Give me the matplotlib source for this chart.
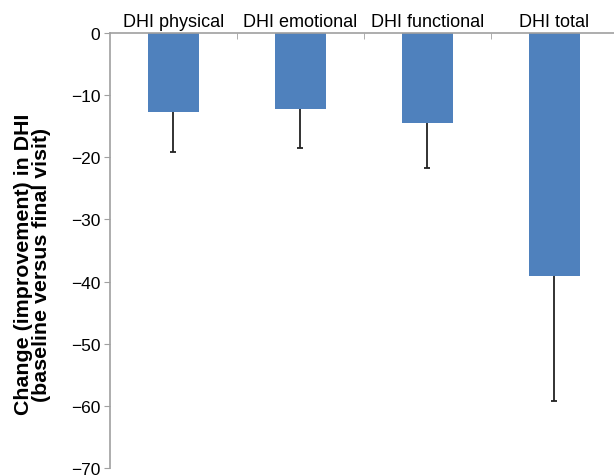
import numpy as np
import matplotlib
matplotlib.use("Agg")
import matplotlib.pyplot as plt

categories = ["DHI physical", "DHI emotional", "DHI functional", "DHI total"]
changes = [-12.7, -12.3, -14.5, -39.1]
errors = [6.4, 6.2, 7.2, 20.1]
yticks = [0, -10, -20, -30, -40, -50, -60, -70]

plt.rcParams['font.family'] = ['Liberation Sans', 'DejaVu Sans']

fig = plt.figure(figsize=(6.14, 4.77), dpi=100)
ax = fig.add_axes([0.179, 0.0168, 0.821, 0.9119])

x = np.arange(len(categories))
ax.bar(x, changes, width=0.4, color="#4F81BD", zorder=2)
# error bars only on the lower side, no cap at the bar end
eb = ax.errorbar(x, changes, yerr=[errors, np.zeros(len(errors))], fmt="none",
                 ecolor="#222222", elinewidth=1.3, capsize=2.5, capthick=1.3, zorder=3)
eb[1][1].set_visible(False)

ax.set_xlim(-0.5, 3.47)
ax.set_ylim(-70, 0)
ax.set_yticks(yticks)
ax.set_yticklabels(["0" if v == 0 else "\u2212%d" % abs(v) for v in yticks], fontsize=12.5)

ax.xaxis.tick_top()
ax.set_xticks(x)
ax.set_xticklabels(categories, fontsize=13)
ax.tick_params(axis="x", length=0, pad=2)
ax.set_xticks(np.arange(0.5, 3.5, 1), minor=True)
ax.tick_params(axis="x", which="minor", direction="in", length=4, color="#A0A0A0", top=True)
ax.tick_params(axis="y", length=4, color="#A0A0A0", pad=3)

for s in ["right", "bottom"]:
    ax.spines[s].set_visible(False)
for s in ["left", "top"]:
    ax.spines[s].set_color("#A0A0A0")
    ax.spines[s].set_linewidth(1.2)

ax.set_ylabel("Change (improvement) in DHI\n(baseline versus final visit)",
              fontsize=15.4, fontweight="bold", labelpad=14, linespacing=0.95)
ax.yaxis.label.set_y(0.47)

fig.savefig("out.png", dpi=100)
